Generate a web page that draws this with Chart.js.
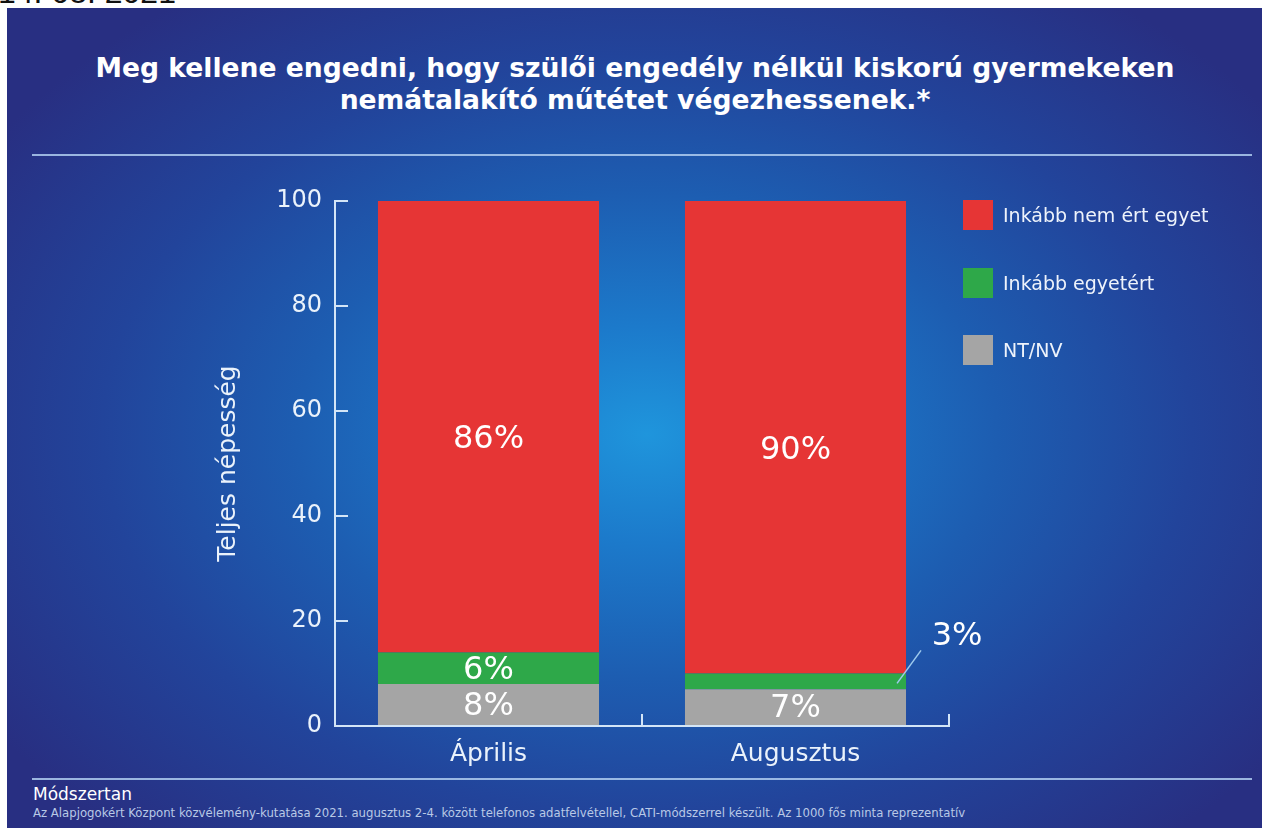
<!DOCTYPE html>
<html>
<head>
<meta charset="utf-8">
<script src="https://cdn.jsdelivr.net/npm/chart.js@4"></script>
<style>
  html, body { margin: 0; padding: 0; background: #fff; }
  body { width: 1268px; height: 828px; position: relative; overflow: hidden; font-family: "DejaVu Sans", sans-serif; }
  #datum { position: absolute; left: -2px; top: -24px; font: 32px/32px "Liberation Sans", Arial, sans-serif; color: #111; }
  #panel {
    position: absolute; left: 7px; top: 8px; width: 1255px; height: 820px;
    background: radial-gradient(ellipse 62% 66% at 51% 52%, #1f95dc 0%, #1c7acb 20%, #1d5db1 45%, #22449b 70%, #282f82 100%);
  }
  #cim { position: absolute; left: 0; width: 1270px; top: 52px; text-align: center; color: #fff;
    font: bold 26.6px/32px "DejaVu Sans", sans-serif; }
  .vonal { position: absolute; left: 32px; width: 1220px; height: 2px; background: rgba(175, 205, 240, 0.85); }
  #chartWrap { position: absolute; left: 0; top: 150px; width: 1268px; height: 620px; }
  #jelmagyarazat { position: absolute; left: 963px; top: 200px; }
  .elem { position: absolute; left: 0; height: 30px; white-space: nowrap; }
  .elem i { position: absolute; left: 0; top: 0; width: 30px; height: 30px; }
  .elem span { position: absolute; left: 40px; top: 0; line-height: 30px; font-size: 19px; color: #eef3fb; }
  #modszer { position: absolute; left: 33px; top: 784px; font-size: 17px; color: #fff; }
  #labjegyzet { position: absolute; left: 33px; top: 806px; font-size: 11.7px; color: #b9c9e6; white-space: nowrap; }
</style>
</head>
<body>
<div id="datum">14. 08. 2021</div>
<div id="panel"></div>
<div id="cim">Meg kellene engedni, hogy szülői engedély nélkül kiskorú gyermekeken<br>nemátalakító műtétet végezhessenek.*</div>
<div class="vonal" style="top:154px"></div>
<div id="chartWrap"><canvas id="grafikon"></canvas></div>
<div id="jelmagyarazat"></div>
<div class="vonal" style="top:778px"></div>
<div id="modszer">Módszertan</div>
<div id="labjegyzet">Az Alapjogokért Központ közvélemény-kutatása 2021. augusztus 2-4. között telefonos adatfelvétellel, CATI-módszerrel készült. Az 1000 fős minta reprezentatív</div>

<script>
// adatok
const honapok = ["Április", "Augusztus"];
const ntnv = [8, 7];
const egyetert = [6, 3];
const nemErtEgyet = [86, 90];
const yTicks = [0, 20, 40, 60, 80, 100];

const sorozatNevek = ["NT/NV", "Inkább egyetért", "Inkább nem ért egyet"];
const szinek = ["#a5a5a5", "#2ea849", "#e63535"];

const vilagos = "#d3e5f7";

// jelmagyarazat (forditott sorrendben, mint a grafikonon)
const jm = document.getElementById("jelmagyarazat");
[2, 1, 0].forEach((k, i) => {
  const d = document.createElement("div");
  d.className = "elem";
  d.style.top = i * 67.5 + "px";
  d.innerHTML = '<i style="background:' + szinek[k] + '"></i><span>' + sorozatNevek[k] + "</span>";
  jm.appendChild(d);
});

// szazalek feliratok a savokon
const feliratok = {
  id: "feliratok",
  afterDatasetsDraw(chart) {
    const ctx = chart.ctx;
    ctx.save();
    ctx.fillStyle = "#fff";
    ctx.font = "32px 'DejaVu Sans'";
    ctx.textAlign = "center";
    ctx.textBaseline = "middle";
    chart.data.datasets.forEach((ds, i) => {
      const meta = chart.getDatasetMeta(i);
      meta.data.forEach((bar, j) => {
        const h = bar.base - bar.y;
        const cy = (bar.base + bar.y) / 2;
        const txt = ds.data[j] + "%";
        if (h < 20) {
          // kis sav: felirat kivul, vezetovonallal
          const rx = bar.x + bar.width / 2;
          ctx.strokeStyle = "#9fcbee";
          ctx.lineWidth = 1.5;
          ctx.beginPath();
          ctx.moveTo(rx - 9, cy + 2);
          ctx.lineTo(rx + 15, cy - 31);
          ctx.stroke();
          ctx.fillText(txt, rx + 51, cy - 45);
        } else {
          const off = i === 2 ? 13 : 2;
          ctx.fillText(txt, bar.x, cy + off);
        }
      });
    });
    ctx.restore();
  },
};

new Chart(document.getElementById("grafikon"), {
  type: "bar",
  data: {
    labels: honapok,
    datasets: [
      { label: sorozatNevek[0], data: ntnv, backgroundColor: szinek[0] },
      { label: sorozatNevek[1], data: egyetert, backgroundColor: szinek[1] },
      { label: sorozatNevek[2], data: nemErtEgyet, backgroundColor: szinek[2] },
    ],
  },
  options: {
    responsive: true,
    maintainAspectRatio: false,
    animation: false,
    datasets: { bar: { categoryPercentage: 1, barPercentage: 0.72 } },
    layout: { padding: { left: 213, right: 319, top: 51, bottom: 0 } },
    plugins: { legend: { display: false }, tooltip: { enabled: false } },
    scales: {
      x: {
        stacked: true,
        afterFit: (s) => { s.height = 44; },
        grid: { drawOnChartArea: false, drawTicks: true, tickLength: -12, color: vilagos, lineWidth: 2 },
        border: { display: true, color: vilagos, width: 2 },
        ticks: { color: "#eaf2fb", font: { family: "DejaVu Sans", size: 25 }, padding: 25 },
      },
      y: {
        stacked: true,
        min: 0,
        max: 100,
        afterFit: (s) => { s.width = 122; },
        afterBuildTicks: (s) => { s.ticks = yTicks.map((v) => ({ value: v })); },
        grid: { drawOnChartArea: false, drawTicks: true, tickLength: -13, color: vilagos, lineWidth: 2 },
        border: { display: true, color: vilagos, width: 2 },
        ticks: { color: "#eaf2fb", font: { family: "DejaVu Sans", size: 24 }, padding: 26 },
        title: { display: true, text: "Teljes népesség", color: "#eaf2fb", font: { family: "DejaVu Sans", size: 25 }, padding: 0 },
      },
    },
  },
  plugins: [feliratok],
});
</script>
</body>
</html>
